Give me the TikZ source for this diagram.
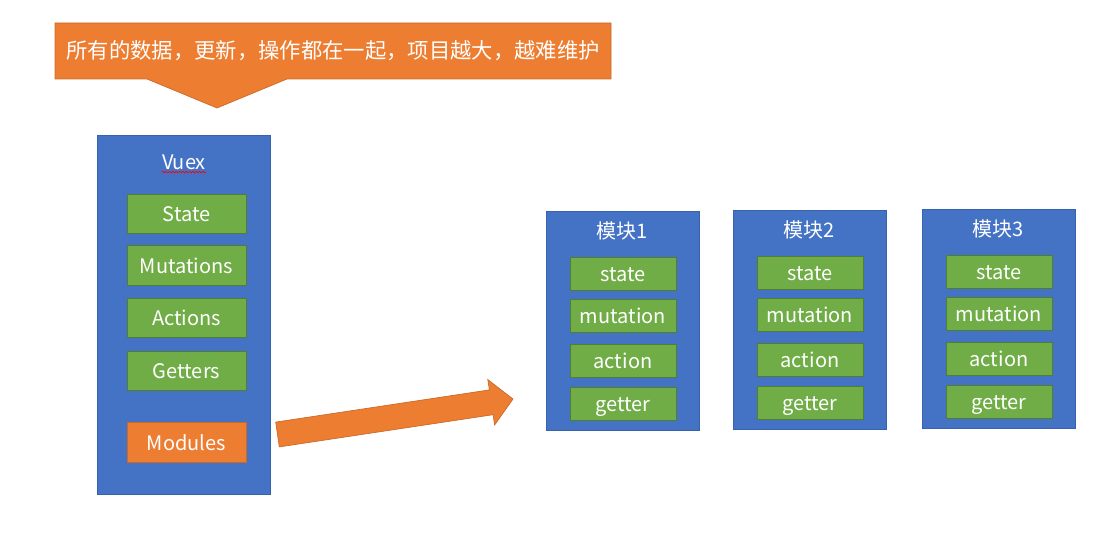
\documentclass[tikz,border=0pt]{standalone}
\usepackage{fontspec}
\setmainfont{Noto Sans CJK SC}
\usetikzlibrary{decorations.pathmorphing}
\definecolor{vblue}{HTML}{4472C4}
\definecolor{vblueline}{HTML}{3A62AC}
\definecolor{vgreen}{HTML}{70AD47}
\definecolor{vgreenline}{HTML}{507E32}
\definecolor{vorange}{HTML}{ED7D31}
\definecolor{vorangeline}{HTML}{C8692A}

\begin{document}
\begin{tikzpicture}[x=0.75pt,y=-0.75pt,
  every node/.style={text=white, font=\fontsize{15}{18}\selectfont, text height=14pt, text depth=2.5pt, inner sep=0pt},
  panel/.style={fill=vblue, draw=vblueline, line width=0.75pt},
  item/.style={fill=vgreen, draw=vgreenline, line width=0.75pt, minimum width=89.25pt, minimum height=29.5pt},
  subitem/.style={item, minimum width=79.5pt, minimum height=24.75pt}]
\useasboundingbox (0,0) rectangle (1117,535);

% callout on top
\filldraw[fill=vorange, draw=vorangeline, line width=0.5pt] (55,23) -- (611,23) -- (611,79) -- (287,79) -- (217,108) -- (147,79) -- (55,79) -- cycle;
\node[font=\fontsize{16}{19}\selectfont] (note) at (333,51) {所有的数据，更新，操作都在一起，项目越大，越难维护};

% Vuex store
\node[panel, minimum width=129.75pt, minimum height=269.25pt] (vuex) at (184,314.5) {};
\node (vuextitle) at (184,162) {Vuex};
\draw[red, line width=0.5pt, decorate, decoration={snake, amplitude=0.6pt, segment length=2.5pt}] ([yshift=-1.8pt]vuextitle.base west) -- ([yshift=-1.8pt]vuextitle.base east);
\foreach \y/\t in {214/State, 265.5/Mutations, 318/Actions, 371/Getters}
  \node[item] (\t) at (186.5,\y) {\t};
\node[item, fill=vorange, draw=vorangeline] (Modules) at (186.5,442.5) {Modules};

% block arrow
\filldraw[fill=vorange, draw=vorangeline, line width=0.5pt] (275.7,422.1) -- (489.4,389.9) -- (487.8,379.6) -- (513,399) -- (494.6,425.0) -- (493.1,414.7) -- (279.3,446.9) -- cycle;

% modules
\foreach \x/\y/\n in {622.5/211/1, 809.5/210/2, 998.5/209/3} {
  \node[panel, minimum width=114.75pt, minimum height=164.25pt, anchor=north] (mod\n) at (\x,\y) {};
  \node (mod\n title) at (\x,\y+20) {模块\n};
  \foreach \dy/\t in {63/state, 104.5/mutation, 149.5/action, 192.5/getter}
    \node[subitem] (mod\n\t) at (\x+0.5,\y+\dy) {\t};
}
\end{tikzpicture}
\end{document}
